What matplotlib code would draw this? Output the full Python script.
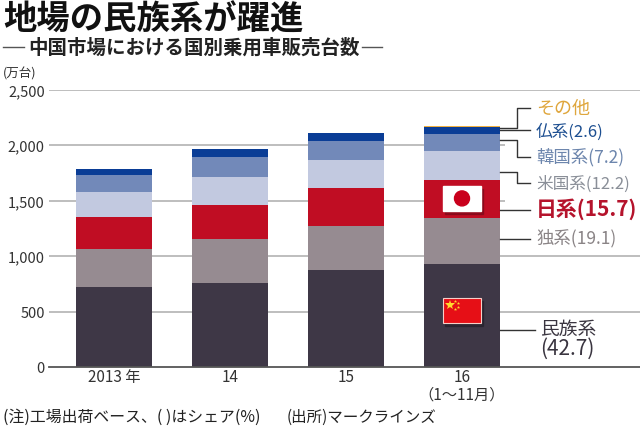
import matplotlib
matplotlib.use('Agg')
import matplotlib.pyplot as plt
from matplotlib.patches import Rectangle, Circle

plt.rcParams['font.family'] = ['Noto Sans CJK JP', 'DejaVu Sans']

categories = ['2013 年', '14', '15', '16\n（1〜11月）']
minzoku = [724, 760, 874, 927]
doku = [336, 390, 400, 414]
nichi = [295, 313, 336, 341]
bei = [219, 249, 258, 265]
kan = [156, 177, 168, 156]
futsu = [55, 76, 73, 56]
sonota = [2, 2, 2, 11]
series = [minzoku, doku, nichi, bei, kan, futsu, sonota]
colors = ['#3e3746', '#968b91', '#c00d23', '#c2c9e0', '#7289b9', '#0a3d96', '#f0b040']
y_ticks = [0, 500, 1000, 1500, 2000, 2500]
y_labels = ['0', '500', '1,000', '1,500', '2,000', '2,500']

W, H = 640, 431
fig = plt.figure(figsize=(W / 100, H / 100), dpi=100)

# chart area, pixel values from the reference
ax = fig.add_axes([49 / W, 1 - 368 / H, (W - 49) / W, 277.5 / H])
ax.set_xlim((49 - 114) / 116, (W - 114) / 116)
ax.set_ylim(0, 2500)
for s in ax.spines.values():
    s.set_visible(False)
ax.patch.set_alpha(0)

xs = list(range(len(categories)))
bottom = [0] * len(categories)
for vals, c in zip(series, colors):
    ax.bar(xs, vals, width=0.65, bottom=bottom, color=c, zorder=3)
    bottom = [b + v for b, v in zip(bottom, vals)]

# 1,500 and 2,000 stop just after the last bar
for v in y_ticks[1:]:
    xmax = 3.37 if v in (1500, 2000) else ax.get_xlim()[1]
    ax.hlines(v, ax.get_xlim()[0], xmax, color='#b9b9b9', lw=1.3, zorder=1)
ax.axhline(0, color='#555555', lw=1.3, zorder=4, clip_on=False)

ax.set_yticks(y_ticks, y_labels, fontsize=10.5, color='#333333')
ax.set_xticks(xs, categories, fontsize=11, color='#333333', linespacing=1.0)
ax.tick_params(axis='both', length=0)
ax.tick_params(axis='y', pad=3)
ax.tick_params(axis='x', pad=1)

# overlay in pixel coordinates for texts, leaders and flags
ov = fig.add_axes([0, 0, 1, 1])
ov.set_xlim(0, W)
ov.set_ylim(H, 0)
ov.axis('off')
ov.patch.set_alpha(0)

ov.text(3, 20, '地場の民族系が躍進', fontsize=24, fontweight='bold', va='center', color='#111111')
ov.text(28, 48, '中国市場における国別乗用車販売台数', fontsize=14, fontweight='bold',
        va='center', color='#222222')
ov.plot([3, 24], [48, 48], color='#555555', lw=1)
ov.plot([362, 382], [48, 48], color='#555555', lw=1)
ov.text(3, 74, '(万台)', fontsize=9, va='center', color='#333333')
ov.text(3, 417, '(注)工場出荷ベース、( )はシェア(%)', fontsize=11.4, va='center', color='#222222')
ov.text(287, 417, '(出所)マークラインズ', fontsize=11.2, va='center', color='#222222')

leaders = [
    ([500, 517, 517, 530], [128.7, 128.7, 109.3, 109.3]),
    ([500, 530], [131.3, 131.3]),
    ([500, 517, 517, 530], [141, 141, 157.7, 157.7]),
    ([500, 517, 517, 530], [173.3, 173.3, 184, 184]),
    ([500, 530], [211, 211]),
    ([500, 530], [240, 240]),
    ([500, 535], [330.5, 330.5]),
]
for lx, ly in leaders:
    ov.plot(lx, ly, color='#333333', lw=1)

labels = [
    (536, 109, 'その他', '#dfa63c', 13, 'normal'),
    (536, 132, '仏系(2.6)', '#1d4f91', 12, 'normal'),
    (536, 157.5, '韓国系(7.2)', '#6d86ad', 12.5, 'normal'),
    (536, 184, '米国系(12.2)', '#8a8f98', 12, 'normal'),
    (536, 209, '日系(15.7)', '#b5132c', 15, 'bold'),
    (536, 238, '独系(19.1)', '#8a8486', 12.5, 'normal'),
]
for x, y, t, c, fs, w in labels:
    ov.text(x, y, t, color=c, fontsize=fs, fontweight=w, va='center')
ov.text(540, 329, '民族系', color='#3a3540', fontsize=13.5, va='center')
ov.text(540, 349, '(42.7)', color='#3a3540', fontsize=15, va='center', ha='left')

# flags
ov.add_patch(Rectangle((445, 190), 38, 24.5, color='#6e0a18', alpha=0.55, zorder=5))
ov.add_patch(Rectangle((443, 187), 38, 24.7, color='white', zorder=6))
ov.add_patch(Circle((462, 199.4), 7.5, color='#c9001c', zorder=7))

ov.add_patch(Rectangle((445, 302), 38, 25, color='#221e28', alpha=0.6, zorder=5))
ov.add_patch(Rectangle((443, 299), 38, 25.3, facecolor='#e60f16', edgecolor='#f6cfc8', lw=0.8, zorder=6))
ov.plot([449.5], [305.5], marker='*', ms=7, color='#ffd92e', mew=0, zorder=7)
ov.plot([455, 458, 458, 455], [301.5, 304, 307.5, 310], ls='', marker='*', ms=2.5,
        color='#ffd92e', mew=0, zorder=7)

fig.savefig('out.png', dpi=100)
